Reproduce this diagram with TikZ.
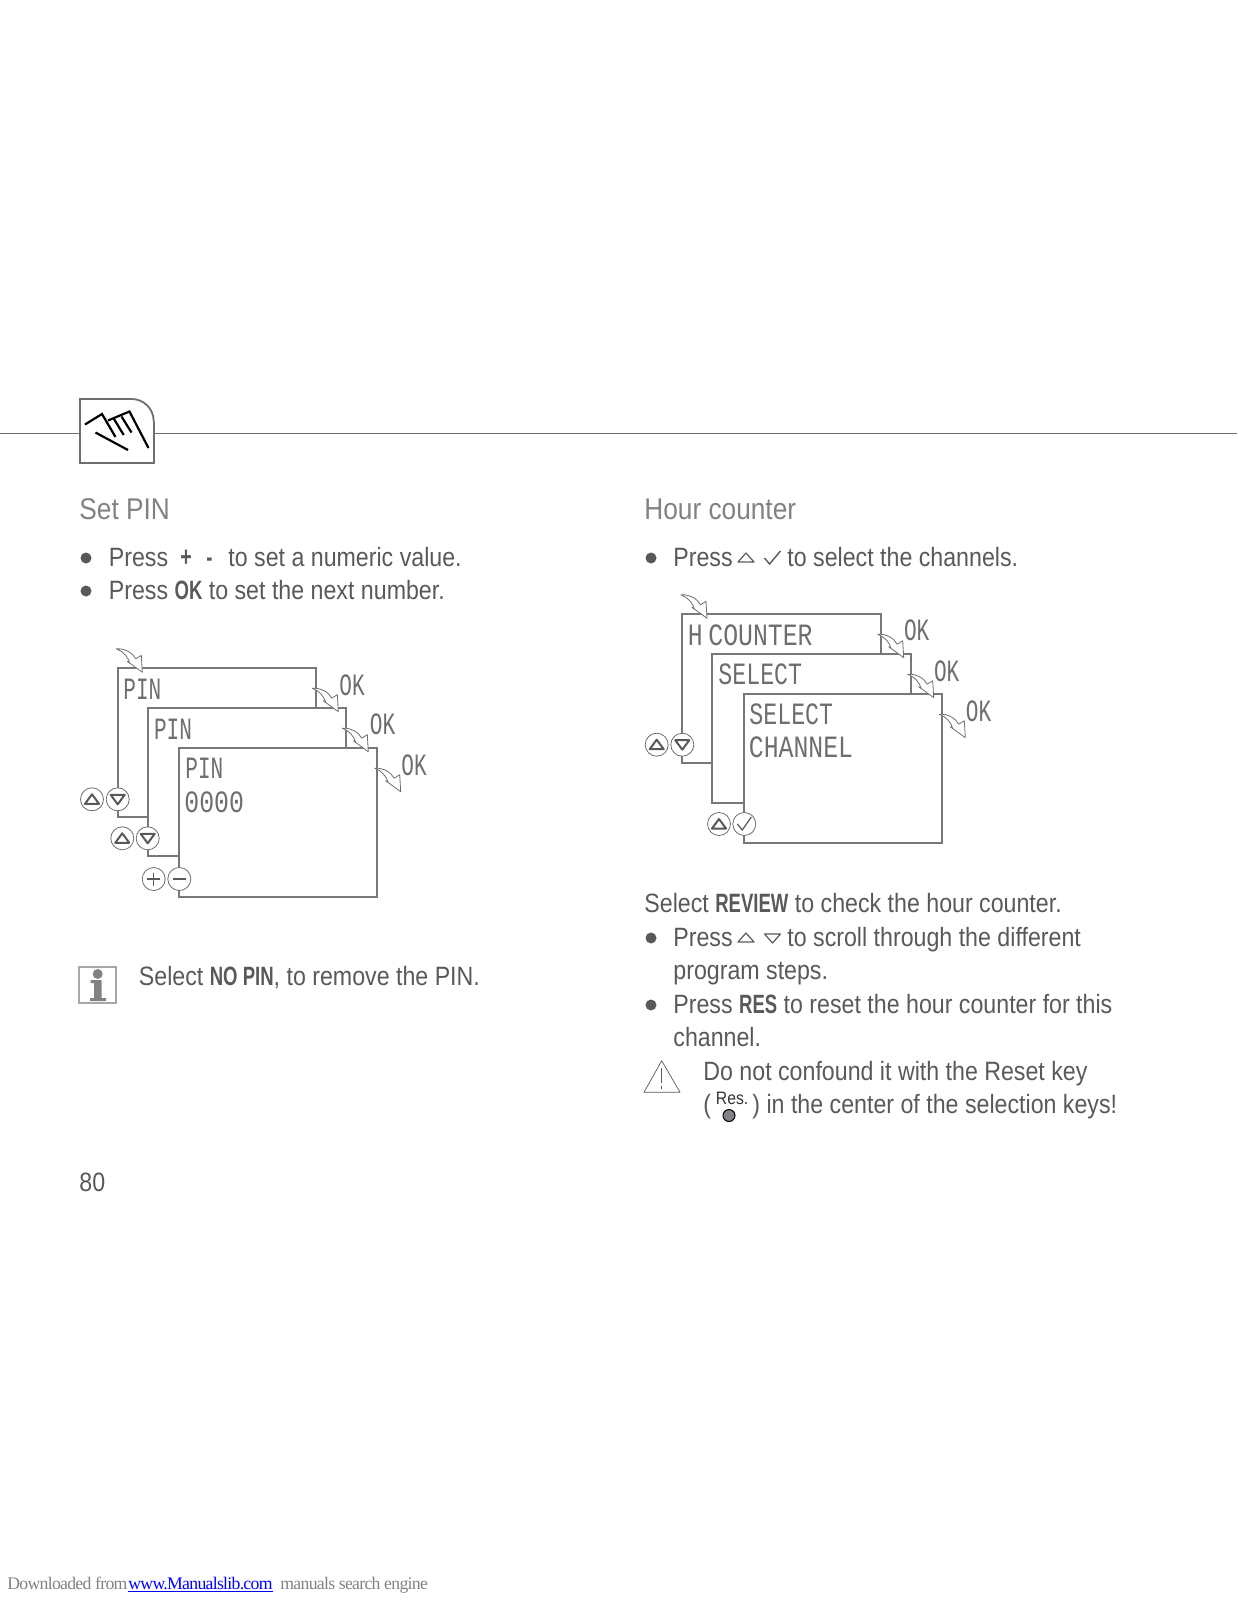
\documentclass[tikz,border=0pt]{standalone}
\usepackage{fontspec}
\setmainfont[FakeStretch=.875,BoldFeatures={FakeStretch=.7}]{Liberation Sans}
\newfontfamily\lcdfont[FakeStretch=.68]{Liberation Mono}
\newfontfamily\lcdmid[FakeStretch=.75]{Liberation Mono}
\newfontfamily\lcdwide[FakeStretch=.8]{Liberation Mono}
\newfontfamily\footfont[LetterSpace=-4]{Liberation Serif}
\usetikzlibrary{positioning}
\definecolor{inkgray}{HTML}{58595B}
\definecolor{headgray}{HTML}{808285}
\definecolor{linegray}{HTML}{6D6E71}
\definecolor{boxgray}{HTML}{77787B}
\tikzset{
  bodytext/.style = { anchor = base west, inner sep = 0, text = inkgray, font = \fontsize{13.25}{16}\selectfont },
  headtext/.style = { anchor = base west, inner sep = 0, text = headgray, font = \fontsize{15}{17}\selectfont },
  foottext/.style = { anchor = base west, inner sep = 0, font = \footfont\fontsize{8.85}{11}\selectfont },
  lcdtext/.style = { anchor = west, inner sep = 0, text = linegray, font = \lcdfont\fontsize{15.5}{17}\selectfont },
  lcdmidtext/.style = { lcdtext, font = \lcdmid\fontsize{15.5}{17}\selectfont },
  lcdwidetext/.style = { lcdtext, font = \lcdwide\fontsize{15.5}{17}\selectfont },
  dotmark/.style = { circle, fill = inkgray, inner sep = 0, minimum size = 5.5pt },
  screen/.style = { draw = boxgray, line width = 1pt, fill = white, inner sep = 0 },
  keybtn/.style = { circle, draw = linegray, line width = .4pt, fill = white, inner sep = 0, minimum size = 11.5pt },
  pics/bentarrow/.style = { code = {
    \draw [linegray, fill = white, line width = .4pt, line join = round]
      (0,0) -- (-1,-17) -- (-6.5,-13.5) .. controls (-10,-20) and (-18,-24) .. (-26,-23.5)
      .. controls (-19,-21) and (-14,-15) .. (-12.5,-9) -- (-15,-11) -- cycle;
  } },
  pics/upmark/.style = { code = {
    \draw [inkgray, line width = 1pt, line join = round] (-7,4.5) -- (0,-5) -- (7,4.5) -- cycle;
  } },
  pics/downmark/.style = { code = {
    \draw [inkgray, line width = 1pt, line join = round] (-7,-4.5) -- (0,5) -- (7,-4.5) -- cycle;
  } },
  pics/plusmark/.style = { code = {
    \draw [inkgray, line width = .6pt] (-6.5,0) -- (6.5,0) (0,-6.5) -- (0,6.5);
  } },
  pics/minusmark/.style = { code = {
    \draw [inkgray, line width = .6pt] (-6.5,0) -- (6.5,0);
  } },
  pics/checkmark/.style = { code = {
    \draw [inkgray, line width = .6pt] (-7,0) -- (-2,6) -- (7,-7);
  } },
  pics/smallup/.style = { code = {
    \draw [inkgray, line width = .6pt, line join = round] (-8,4) -- (0,-5) -- (8,4) -- cycle;
  } },
  pics/smalldown/.style = { code = {
    \draw [inkgray, line width = .6pt, line join = round] (-8,-4) -- (0,5) -- (8,-4) -- cycle;
  } },
  pics/smallcheck/.style = { code = {
    \draw [inkgray, line width = .7pt] (-8,0) -- (-3,6) -- (8,-7);
  } }
}
\begin{document}
\begin{tikzpicture}[x = .5pt, y = -.5pt]
  \useasboundingbox (0,0) rectangle (1237,1600);

  \draw [linegray, line width = .6pt] (0,433.5) -- (79.7,433.5);
  \draw [linegray, line width = .6pt] (153.7,433.5) -- (1237,433.5);
  \draw [linegray, line width = .9pt, rounded corners = 11pt] (130,399) -- (153.7,399) -- (153.7,422);
  \draw [linegray, line width = .9pt] (130,399) -- (79.7,399) -- (79.7,463) -- (153.7,463) -- (153.7,422);
  \draw [black, line width = 1.1pt] (85,424.5) -- (102,414) -- (115.5,437);
  \draw [black, line width = 1.1pt] (108,420.5) -- (129.5,411.5) -- (148.5,448);
  \draw [black, line width = 1.1pt] (114,419) -- (123.7,435);
  \draw [black, line width = 1.1pt] (121.5,416.5) -- (131.5,432.5);
  \draw [black, line width = 1.1pt] (95.5,432.5) -- (128,450);

  \node [headtext] (setpin) at (79,519) {Set PIN};
  \node [dotmark] (dota) at (86,558) {};
  \node [bodytext] (pressa) at (108.5,566) {Press};
  \node [bodytext, font = \bfseries\fontsize{14}{16}\selectfont] (plusa) at (180,566) {+};
  \node [bodytext, font = \bfseries\fontsize{13.25}{16}\selectfont] (minusa) at (206,566) {-};
  \node [bodytext] (valuea) at (228,566) {to set a numeric value.};
  \node [dotmark] (dotb) at (86,591) {};
  \node [bodytext] (pressb) at (108.5,599.5) {Press \textbf{OK} to set the next number.};

  \node [screen, minimum width = 99.15pt, minimum height = 74.35pt] (pina) at (216.85,742.65) {};
  \node [screen, minimum width = 99.15pt, minimum height = 74pt] (pinb) at (246.85,782) {};
  \node [screen, minimum width = 99pt, minimum height = 74.35pt] (pinc) at (278.3,822.65) {};
  \node [lcdtext] (pintexta) at (123,689) {PIN};
  \node [lcdtext] (pintextb) at (153.7,729) {PIN};
  \node [lcdtext] (pintextc) at (185,768) {PIN};
  \node [lcdwidetext] (pincode) at (184,802) {0000};
  \node [keybtn] (upa) at (92,799.3) {};
  \node [keybtn] (downa) at (117.7,799.3) {};
  \node [keybtn] (upb) at (122.3,838.3) {};
  \node [keybtn] (downb) at (147.7,838.3) {};
  \node [keybtn] (plusb) at (153.7,879) {};
  \node [keybtn] (minusb) at (179.3,879) {};
  \pic at (upa) {upmark};
  \pic at (downa) {downmark};
  \pic at (upb) {upmark};
  \pic at (downb) {downmark};
  \pic at (plusb) {plusmark};
  \pic at (minusb) {minusmark};
  \pic at (142.3,672.3) {bentarrow};
  \pic at (338.3,711.7) {bentarrow};
  \pic at (368.3,751.7) {bentarrow};
  \pic at (400.7,791.7) {bentarrow};
  \node [lcdtext, anchor = center] (oka) at (352,685) {OK};
  \node [lcdtext, anchor = center] (okb) at (382.5,724.7) {OK};
  \node [lcdtext, anchor = center] (okc) at (414,765) {OK};

  \draw [headgray!70, line width = .9pt] (79.3,966.7) rectangle (116,1003.3);
  \fill [headgray] (97.7,974) circle (5);
  \fill [headgray] (90.7,980.2) -- (101.7,980.2) -- (101.7,998) -- (106,998) -- (106,1001) -- (90,1001) -- (90,998) -- (94,998) -- (94,983) -- (90.7,983) -- cycle;
  \node [bodytext] (nopin) at (138.5,985) {Select \textbf{NO PIN}, to remove the PIN.};

  \node [bodytext] (pagenum) at (79,1191) {80};

  \node [headtext] (hourcount) at (644,519) {Hour counter};
  \node [dotmark] (dotc) at (651,558) {};
  \node [bodytext] (pressc) at (673,566) {Press};
  \pic at (746,558) {smallup};
  \pic at (772.5,558) {smallcheck};
  \node [bodytext] (chansel) at (787,566) {to select the channels.};

  \node [screen, minimum width = 99.2pt, minimum height = 74.35pt] (countera) at (781.5,688.65) {};
  \node [screen, minimum width = 99.35pt, minimum height = 74.35pt] (counterb) at (811.65,728.35) {};
  \node [screen, minimum width = 98.85pt, minimum height = 74.65pt] (counterc) at (843.15,768.35) {};
  \node [lcdwidetext] (hctext) at (687.5,635.7) {H};
  \node [lcdwidetext] (countext) at (708,635.7) {COUNTER};
  \node [lcdmidtext] (seltexta) at (718,674) {SELECT};
  \node [lcdmidtext] (seltextb) at (749,714) {SELECT};
  \node [lcdwidetext] (chantext) at (748.5,747) {CHANNEL};
  \node [keybtn] (upc) at (656.7,744.7) {};
  \node [keybtn] (downc) at (682.3,744.7) {};
  \node [keybtn] (upd) at (719,824) {};
  \node [keybtn] (checkd) at (744.3,824) {};
  \pic at (upc) {upmark};
  \pic at (downc) {downmark};
  \pic at (upd) {upmark};
  \pic at (checkd) {checkmark};
  \pic at (707,618.3) {bentarrow};
  \pic at (903.7,657.7) {bentarrow};
  \pic at (933.7,697.7) {bentarrow};
  \pic at (965.3,737.7) {bentarrow};
  \node [lcdtext, anchor = center] (okd) at (916.7,630) {OK};
  \node [lcdtext, anchor = center] (oke) at (946.7,671) {OK};
  \node [lcdtext, anchor = center] (okf) at (978.6,711) {OK};

  \node [bodytext] (review) at (644,912.5) {Select \textbf{REVIEW} to check the hour counter.};
  \node [dotmark] (dotd) at (651,938) {};
  \node [bodytext] (pressd) at (673,946) {Press};
  \pic at (746,938) {smallup};
  \pic at (772.5,938) {smalldown};
  \node [bodytext] (scroll) at (787,946) {to scroll through the different};
  \node [bodytext] (steps) at (673,979.5) {program steps.};
  \node [dotmark] (dote) at (651,1005) {};
  \node [bodytext] (presse) at (673,1013) {Press \textbf{RES} to reset the hour counter for this};
  \node [bodytext] (chanend) at (673,1046.7) {channel.};

  \draw [inkgray, line width = .35pt, line join = round] (661.7,1060.7) -- (644,1092.3) -- (680,1092.3) -- cycle;
  \draw [inkgray, line width = .5pt] (661.7,1068) -- (661.7,1083) (661.7,1086) -- (661.7,1088.5);
  \node [bodytext] (warna) at (703,1080) {Do not confound it with the Reset key};
  \node [bodytext] (warnb) at (703,1113.5) {(};
  \node [bodytext, text = black!80, font = \fontsize{9}{11}\selectfont] (restext) at (715.5,1104) {Res.};
  \node [circle, draw = black, line width = .5pt, fill = headgray, inner sep = 0, minimum size = 6pt] (resdot) at (729,1115.5) {};
  \node [bodytext] (warnc) at (752,1113.5) {) in the center of the selection keys!};

  \node [foottext, text = headgray] (footl) at (7,1589) {Downloaded from};
  \node [foottext, text = blue] (footm) at (128,1589) {www.Manualslib.com};
  \node [foottext, text = headgray] (footr) at (280,1589) {manuals search engine};
  \draw [blue, line width = .4pt] ([yshift = -1pt]footm.base west) -- ([yshift = -1pt]footm.base east);
\end{tikzpicture}
\end{document}
